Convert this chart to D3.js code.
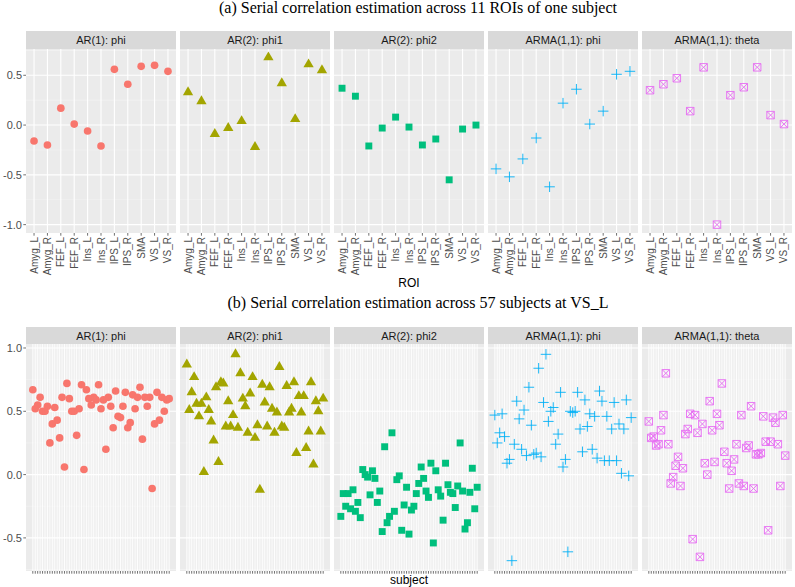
<!DOCTYPE html>
<html>
<head>
<meta charset="utf-8">
<style>
  body { margin: 0; background: #fff; }
  text { font-family: "Liberation Sans", Arial, sans-serif; }
</style>
</head>
<body>
<script src="https://cdn.jsdelivr.net/npm/d3@7"></script>
<script>
// facet strips
var facets = ["AR(1): phi", "AR(2): phi1", "AR(2): phi2", "ARMA(1,1): phi", "ARMA(1,1): theta"];
var colors = ["#F8766D", "#A3A500", "#00BF7D", "#00B0F6", "#E76BF3"];

// (a) 11 ROIs of one subject
var rois = ["Amyg_L", "Amyg_R", "FEF_L", "FEF_R", "Ins_L", "Ins_R", "IPS_L", "IPS_R", "SMA", "VS_L", "VS_R"];
var roiAR1phi   = [-0.16, -0.20, 0.17, 0.01, -0.06, -0.21, 0.56, 0.41, 0.59, 0.60, 0.54];
var roiAR2phi1  = [0.33, 0.24, -0.09, -0.03, 0.04, -0.22, 0.68, 0.42, 0.06, 0.61, 0.55];
var roiAR2phi2  = [0.37, 0.29, -0.21, -0.03, 0.08, -0.02, -0.20, -0.14, -0.55, -0.04, 0.00];
var roiARMAphi  = [-0.44, -0.52, -0.34, -0.13, -0.62, 0.22, 0.36, 0.01, 0.14, 0.51, 0.54];
var roiARMAtheta = [0.35, 0.41, 0.47, 0.14, 0.58, -1.00, 0.30, 0.38, 0.58, 0.10, 0.01];

// (b) 57 subjects at VS_L
var subjAR1phi = [0.67, 0.52, 0.55, 0.61, 0.50, 0.50, 0.54, 0.25, 0.40, 0.53, 0.43, 0.29, 0.61, 0.06, 0.72,
  0.60, 0.50, 0.50, 0.31, 0.52, 0.71, 0.04, 0.67, 0.60, 0.55, 0.61, 0.59, 0.71, 0.52, 0.59,
  0.20, 0.61, 0.54, 0.37, 0.66, 0.46, 0.45, 0.54, 0.65, 0.37, 0.41, 0.63, 0.52, 0.61, 0.69,
  0.28, 0.61, 0.54, 0.61, -0.11, 0.40, 0.65, 0.43, 0.61, 0.50, 0.59, 0.60];
var subjAR2phi1 = [0.87, 0.51, 0.65, 0.77, 0.56, 0.46, 0.56, 0.02, 0.61, 0.51, 0.42, 0.27, 0.69, 0.10, 0.73,
  0.72, 0.38, 0.58, 0.38, 0.47, 0.95, 0.37, 0.80, 0.60, 0.54, 0.33, 0.64, 0.77, 0.29, 0.39,
  -0.12, 0.71, 0.57, 0.38, 0.69, 0.52, 0.33, 0.49, 0.85, 0.38, 0.37, 0.70, 0.49, 0.52, 0.73,
  0.17, 0.62, 0.49, 0.62, 0.21, 0.34, 0.73, 0.08, 0.58, 0.50, 0.34, 0.60];
var subjAR2phi2 = [-0.33, -0.15, -0.25, -0.15, -0.27, -0.12, -0.29, -0.22, -0.34, 0.04, 0.00, -0.02, -0.16, 0.03, -0.03,
  -0.22, -0.13, -0.45, 0.22, -0.38, -0.33, 0.33, -0.29, -0.04, -0.01, -0.44, -0.24, -0.10, -0.47, -0.28,
  -0.25, -0.15, -0.07, 0.06, -0.03, -0.13, -0.18, 0.09, -0.54, 0.03, -0.12, -0.17, -0.36, 0.09, -0.08,
  -0.14, -0.15, -0.26, -0.09, 0.25, -0.13, -0.43, -0.38, -0.14, 0.05, -0.27, -0.10];
var subjARMAphi = [0.47, 0.25, 0.33, 0.48, 0.30, 0.09, 0.12, -0.68, 0.24, 0.58, 0.44, 0.20, 0.51, 0.15, 0.69,
  0.39, 0.16, 0.17, 0.84, 0.14, 0.57, 0.95, 0.42, 0.50, 0.53, 0.24, 0.32, 0.65, 0.06, 0.12,
  -0.61, 0.50, 0.49, 0.50, 0.65, 0.36, 0.18, 0.59, 0.38, 0.48, 0.20, 0.46, 0.13, 0.66, 0.58,
  0.11, 0.46, 0.11, 0.36, 0.57, 0.11, 0.40, 0.01, 0.36, 0.59, -0.01, 0.45];
var subjARMAtheta = [0.42, 0.29, 0.30, 0.23, 0.24, 0.35, 0.47, 0.80, 0.24, -0.07, -0.02, 0.07, 0.14, -0.09, 0.05,
  0.32, 0.36, 0.48, -0.51, 0.47, 0.33, -0.65, 0.40, 0.09, 0.00, 0.58, 0.35, 0.10, 0.48, 0.39,
  0.72, 0.18, 0.09, -0.11, 0.03, 0.12, 0.24, -0.07, 0.47, -0.09, 0.21, 0.23, 0.54, -0.11, 0.16,
  0.16, 0.17, 0.46, 0.26, -0.44, 0.26, 0.45, 0.41, 0.24, -0.09, 0.47, 0.15];

var subjects = d3.range(1, 58);
var roiSeries = [roiAR1phi, roiAR2phi1, roiAR2phi2, roiARMAphi, roiARMAtheta];
var subjSeries = [subjAR1phi, subjAR2phi1, subjAR2phi2, subjARMAphi, subjARMAtheta];

var W = 795, H = 587;
var svg = d3.select("body").append("svg").attr("width", W).attr("height", H);

var panelW = 150, panelGap = 4, left0 = 26;

// plus (pch 3) and boxed cross (pch 7)
var symPlus = { draw: function(ctx, size) {
  var r = Math.sqrt(size) / 2;
  ctx.moveTo(-r, 0); ctx.lineTo(r, 0); ctx.moveTo(0, -r); ctx.lineTo(0, r);
}};
var symBoxX = { draw: function(ctx, size) {
  var s = Math.sqrt(size) / 2;
  ctx.moveTo(-s, -s); ctx.lineTo(s, -s); ctx.lineTo(s, s); ctx.lineTo(-s, s); ctx.closePath();
  ctx.moveTo(-s, -s); ctx.lineTo(s, s); ctx.moveTo(s, -s); ctx.lineTo(-s, s);
}};
var shapes = [
  { type: d3.symbolCircle, size: 46, fill: true },
  { type: d3.symbolTriangle, size: 46, fill: true },
  { type: d3.symbolSquare, size: 48, fill: true },
  { type: symPlus, size: 110, fill: false },
  { type: symBoxX, size: 56, fill: false }
];

function expand(vals) {
  var all = d3.merge(vals);
  var ext = d3.extent(all), pad = (ext[1] - ext[0]) * 0.05;
  return [ext[0] - pad, ext[1] + pad];
}

function drawRow(cfg) {
  var g = svg.append("g");
  var y = d3.scaleLinear().domain(expand(cfg.series)).range([cfg.bottom, cfg.top]);

  // title
  g.append("text")
    .attr("x", 418).attr("y", cfg.titleY)
    .attr("text-anchor", "middle")
    .style("font-family", "'Liberation Serif', 'DejaVu Serif', serif")
    .style("font-size", "16px")
    .text(cfg.title);

  facets.forEach(function(f, k) {
    var x0 = left0 + k * (panelW + panelGap);
    var x = cfg.xScale().range([x0, x0 + panelW]);
    var p = g.append("g");

    // strip
    p.append("rect").attr("x", x0).attr("y", cfg.stripTop)
      .attr("width", panelW).attr("height", cfg.top - cfg.stripTop).attr("fill", "#D9D9D9");
    p.append("text").attr("x", x0 + panelW / 2).attr("y", (cfg.stripTop + cfg.top) / 2)
      .attr("text-anchor", "middle").attr("dominant-baseline", "central")
      .style("font-size", "11px").attr("fill", "#1A1A1A").text(f);

    // panel
    p.append("rect").attr("x", x0).attr("y", cfg.top)
      .attr("width", panelW).attr("height", cfg.bottom - cfg.top).attr("fill", "#EBEBEB");

    var yMajor = y.ticks(4);
    var step = yMajor[1] - yMajor[0];
    var yMinor = d3.range(yMajor[0] - step / 2, y.domain()[1], step)
      .filter(function(v) { return v > y.domain()[0] && v < y.domain()[1]; });

    p.selectAll(".ymin").data(yMinor).enter().append("line")
      .attr("x1", x0).attr("x2", x0 + panelW)
      .attr("y1", function(d) { return y(d); }).attr("y2", function(d) { return y(d); })
      .attr("stroke", "#F5F5F5").attr("stroke-width", 0.6);
    if (cfg.xMinor) {
      p.selectAll(".xmin").data(cfg.xMinor).enter().append("line")
        .attr("x1", function(d) { return x(d); }).attr("x2", function(d) { return x(d); })
        .attr("y1", cfg.top).attr("y2", cfg.bottom)
        .attr("stroke", "#F7F7F7").attr("stroke-width", 0.5);
    }
    p.selectAll(".ymaj").data(yMajor).enter().append("line")
      .attr("x1", x0).attr("x2", x0 + panelW)
      .attr("y1", function(d) { return y(d); }).attr("y2", function(d) { return y(d); })
      .attr("stroke", "#fff").attr("stroke-width", 1.1);
    p.selectAll(".xmaj").data(cfg.cats).enter().append("line")
      .attr("x1", function(d) { return x(d); }).attr("x2", function(d) { return x(d); })
      .attr("y1", cfg.top).attr("y2", cfg.bottom)
      .attr("stroke", "#fff").attr("stroke-width", cfg.xMajorW);

    // x ticks
    p.selectAll(".xt").data(cfg.cats).enter().append("line")
      .attr("x1", function(d) { return x(d); }).attr("x2", function(d) { return x(d); })
      .attr("y1", cfg.bottom).attr("y2", cfg.bottom + 2.7)
      .attr("stroke", "#333").attr("stroke-width", 0.7);
    if (cfg.xLabels) {
      p.selectAll(".xl").data(cfg.cats).enter().append("text")
        .attr("transform", function(d) { return "translate(" + x(d) + "," + (cfg.bottom + 4) + ") rotate(-90)"; })
        .attr("text-anchor", "end").attr("dominant-baseline", "central")
        .style("font-size", "10px").attr("fill", "#4D4D4D").text(function(d) { return d; });
    }

    // y axis on first panel
    if (k === 0) {
      p.selectAll(".yt").data(yMajor).enter().append("line")
        .attr("x1", x0 - 2.7).attr("x2", x0)
        .attr("y1", function(d) { return y(d); }).attr("y2", function(d) { return y(d); })
        .attr("stroke", "#333").attr("stroke-width", 0.7);
      p.selectAll(".yl").data(yMajor).enter().append("text")
        .attr("x", x0 - 4).attr("y", function(d) { return y(d); })
        .attr("text-anchor", "end").attr("dominant-baseline", "central")
        .style("font-size", "11px").attr("fill", "#4D4D4D")
        .text(function(d) { return d3.format(".1f")(d).replace("\u2212", "-"); });
    }

    // points
    var sh = shapes[k];
    var sym = d3.symbol().type(sh.type).size(sh.size);
    p.selectAll(".pt").data(cfg.series[k]).enter().append("path")
      .attr("d", sym)
      .attr("transform", function(d, i) { return "translate(" + x(cfg.cats[i]) + "," + y(d) + ")"; })
      .attr("fill", sh.fill ? colors[k] : "none")
      .attr("stroke", sh.fill ? "none" : colors[k])
      .attr("stroke-width", sh.fill ? 0 : 0.9);
  });

  // x axis title
  g.append("text").attr("x", 409).attr("y", cfg.xTitleY)
    .attr("text-anchor", "middle").attr("dominant-baseline", "central")
    .style("font-size", "12px").attr("fill", "#000").text(cfg.xTitle);
}

drawRow({
  title: "(a) Serial correlation estimation across 11 ROIs of one subject",
  titleY: 13,
  stripTop: 31, top: 49, bottom: 233,
  series: roiSeries,
  cats: rois,
  xScale: function() { return d3.scalePoint().domain(rois).padding(0.6); },
  xMajorW: 1.1,
  xLabels: true,
  xTitle: "ROI", xTitleY: 283
});

drawRow({
  title: "(b) Serial correlation estimation across 57 subjects at VS_L",
  titleY: 308,
  stripTop: 327, top: 344, bottom: 571,
  series: subjSeries,
  cats: subjects,
  xScale: function() { return d3.scaleLinear().domain([1 - 56 * 0.05, 57 + 56 * 0.05]); },
  xMinor: d3.range(1.5, 57, 1),
  xMajorW: 0.9,
  xLabels: false,
  xTitle: "subject", xTitleY: 580
});
</script>
</body>
</html>
